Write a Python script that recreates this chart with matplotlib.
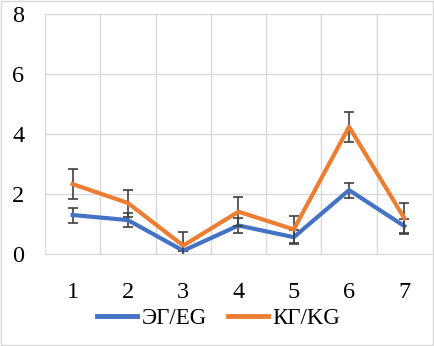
import numpy as np
import matplotlib.pyplot as plt
from matplotlib.patches import Rectangle

plt.rcParams['font.family'] = ['Liberation Serif', 'DejaVu Serif']

groups = [1, 2, 3, 4, 5, 6, 7]
eg_mean = [1.3, 1.13, 0.11, 0.95, 0.56, 2.13, 0.93]
eg_err = [0.25, 0.23, 0.0, 0.24, 0.23, 0.25, 0.25]
kg_mean = [2.33, 1.7, 0.28, 1.41, 0.82, 4.24, 1.19]
kg_err = [0.5, 0.45, 0.45, 0.48, 0.46, 0.49, 0.5]
labels = ['ЭГ/EG', 'КГ/KG']

fig = plt.figure(figsize=(4.34, 3.46), dpi=100)
ax = fig.add_axes([45/434, 92/346, 387/434, 240/346])

x = np.array(groups)
ax.errorbar(x, eg_mean, yerr=eg_err, color='#4472C4', lw=3, ecolor='#404040',
            elinewidth=1.2, capsize=3.3, capthick=1.2, label=labels[0], zorder=3)
ax.errorbar(x, kg_mean, yerr=kg_err, color='#ED7D31', lw=3, ecolor='#404040',
            elinewidth=1.2, capsize=3.3, capthick=1.2, label=labels[1], zorder=4)

ax.set_xlim(0.5, 7.5)
ax.set_ylim(0, 8)
ax.set_yticks([0, 2, 4, 6, 8])
ax.set_xticks(groups)
ax.set_xticks(np.arange(0.5, 7.5, 1), minor=True)
ax.grid(axis='y', which='major', color='#D9D9D9', lw=1)
ax.grid(axis='x', which='minor', color='#D9D9D9', lw=1)
ax.set_axisbelow(True)
for s in ['top', 'right', 'left']:
    ax.spines[s].set_visible(False)
ax.spines['bottom'].set_color('#D9D9D9')
ax.tick_params(which='both', length=0, labelsize=17.5, colors='#000000')
ax.tick_params(axis='x', pad=20)
ax.tick_params(axis='y', pad=15)

handles = [plt.Line2D([], [], color='#4472C4', lw=3.5),
           plt.Line2D([], [], color='#ED7D31', lw=3.5)]
fig.legend(handles, labels, loc='center', bbox_to_anchor=(218.5/434, 1 - 318/346),
           ncol=2, frameon=False, fontsize=16.5, handlelength=1.75,
           handletextpad=0.2, columnspacing=0.9, borderpad=0, borderaxespad=0)

fig.patches.append(Rectangle((0.002, 0.002), 0.996, 0.996, transform=fig.transFigure,
                             fill=False, edgecolor='#D9D9D9', lw=1))

fig.savefig('out.png', dpi=100)
